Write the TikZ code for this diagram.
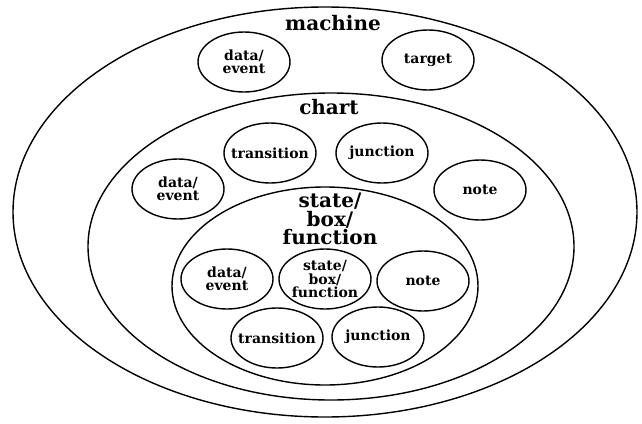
\documentclass[tikz,border=0pt]{standalone}
\usepackage{fontspec}
\setmainfont{DejaVu Serif}
\usetikzlibrary{shapes.geometric}
\tikzset{
  ring/.style={draw, line width=1.4pt, ellipse, inner sep=0pt},
  item/.style={ring, minimum width=92pt, minimum height=60pt},
  itemtext/.style={align=center, inner sep=0pt,
    font=\bfseries\fontsize{14}{13.5}\selectfont},
  biglabel/.style={align=center, inner sep=0pt, font=\bfseries\fontsize{20}{18.5}\selectfont}
}
\begin{document}
\begin{tikzpicture}[x=1pt,y=-1pt]
\useasboundingbox (0,0) rectangle (642,423);
% containers
\node[ring, minimum width=624pt, minimum height=410pt] (machine) at (325,212) {};
\node[ring, minimum width=486pt, minimum height=307pt] (chart) at (331,246.5) {};
\node[ring, minimum width=306pt, minimum height=198pt] (state) at (325,286) {};
% container labels
\node[biglabel] (machinelbl) at (333,23) {machine};
\node[biglabel] (chartlbl) at (329,107) {chart};
\node[biglabel] (statelbl) at (330,219) {state/\\box/\\function};
% machine items
\node[item] (mdata) at (244,62) {};
\node[itemtext] (mdatat) at (mdata) {data/\\event};
\node[item] (mtarget) at (428,60) {};
\node[itemtext] (mtargett) at (mtarget) {target};
% chart items
\node[item] (ctrans) at (270,153) {};
\node[itemtext] (ctranst) at (ctrans) {transition};
\node[item] (cjunc) at (382,153) {};
\node[itemtext] (cjunct) at (cjunc) {junction};
\node[item] (cdata) at (178,189) {};
\node[itemtext] (cdatat) at (cdata) {data/\\event};
\node[item] (cnote) at (480,190) {};
\node[itemtext] (cnotet) at (cnote) {note};
% state items
\node[item] (sdata) at (227,279) {};
\node[itemtext] (sdatat) at (sdata) {data/\\event};
\node[item] (ssbf) at (325,279) {};
\node[itemtext] (ssbft) at (ssbf) {state/\\box/\\function};
\node[item] (snote) at (423,281) {};
\node[itemtext] (snotet) at (snote) {note};
\node[item] (strans) at (277,338) {};
\node[itemtext] (stranst) at (strans) {transition};
\node[item] (sjunc) at (378,337) {};
\node[itemtext] (sjunct) at (sjunc) {junction};
\end{tikzpicture}
\end{document}
